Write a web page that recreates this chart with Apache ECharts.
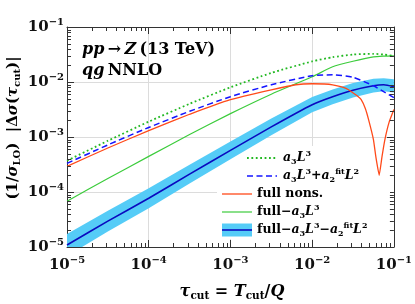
<!DOCTYPE html>
<html><head><meta charset="utf-8">
<script src="https://cdn.jsdelivr.net/npm/echarts@6/dist/echarts.min.js"></script>
<style>html,body{margin:0;padding:0;background:#fff}#c{width:415px;height:304px}</style>
</head><body><div id="c"></div>
<script>
// ---- data ----
const tau = [1e-5, 3.16e-5, 1e-4, 3.16e-4, 1e-3, 3.16e-3, 1e-2, 1.78e-2, 3.16e-2, 5.62e-2, 7.5e-2, 1e-1];
const a3L3 = [3.71e-4, 8.53e-4, 1.90e-3, 4.01e-3, 8.0e-3, 1.46e-2, 2.37e-2, 2.82e-2, 3.16e-2, 3.25e-2, 3.16e-2, 2.96e-2];
const a3L3a2L2 = [3.31e-4, 7.17e-4, 1.49e-3, 2.93e-3, 5.41e-3, 8.91e-3, 1.30e-2, 1.35e-2, 1.22e-2, 8.55e-3, 6.67e-3, 5.19e-3];
const fullMinusA3 = [6.81e-5, 1.76e-4, 4.44e-4, 1.11e-3, 2.66e-3, 6.0e-3, 1.245e-2, 1.89e-2, 2.38e-2, 2.86e-2, 2.95e-2, 2.99e-2];
const fullMinusBoth = [1.09e-5, 2.95e-5, 7.71e-5, 2.11e-4, 5.70e-4, 1.53e-3, 3.87e-3, 5.41e-3, 7.10e-3, 8.55e-3, 8.91e-3, 8.20e-3];
const bandLow = [6.85e-6, 1.91e-5, 5.09e-5, 1.43e-4, 3.94e-4, 1.08e-3, 2.81e-3, 3.94e-3, 5.25e-3, 6.41e-3, 6.76e-3, 6.46e-3];
const bandHigh = [1.72e-5, 4.57e-5, 1.17e-4, 3.13e-4, 8.24e-4, 2.16e-3, 5.35e-3, 7.33e-3, 9.55e-3, 1.14e-2, 1.17e-2, 1.12e-2];
const tauRed = [1e-5, 3.16e-5, 1e-4, 3.16e-4, 1e-3, 3.16e-3, 6.31e-3, 1e-2, 1.41e-2, 1.78e-2, 2.24e-2, 2.63e-2, 3.02e-2, 3.55e-2, 3.98e-2, 4.47e-2, 4.9e-2, 5.62e-2, 6.03e-2, 6.61e-2, 7.16e-2, 7.76e-2, 8.71e-2, 1e-1];
const fullNons = [2.93e-4, 6.31e-4, 1.31e-3, 2.59e-3, 4.78e-3, 7.2e-3, 8.91e-3, 9.29e-3, 9.2e-3, 8.9e-3, 8.2e-3, 7.55e-3, 6.67e-3, 5.6e-3, 4.77e-3, 3.3e-3, 2.07e-3, 9.0e-4, 4.26e-4, 2.01e-4, 4.44e-4, 9.0e-4, 1.83e-3, 3.15e-3];
const tickExponents = ['−5', '−4', '−3', '−2', '−1'];
const minorMantissas = [2, 3, 4, 5, 6, 7, 8, 9];
const decades = [1e-5, 1e-4, 1e-3, 1e-2];

const XMIN = 1e-5, XMAX = 1e-1, YMIN = 1e-5, YMAX = 1e-1;
const minorTicks = [];
decades.forEach(d => minorMantissas.forEach(m => minorTicks.push(+(m * d).toPrecision(3))));

const SERIF = 'DejaVu Serif';
const C_DOT = '#22b822', C_DASH = '#1414ff', C_RED = '#ff4a1a', C_GREEN = '#3ccc3c', C_BAND = '#55ccf7', C_CENTER = '#0a0abf';
const pair = (xs, ys) => xs.map((x, i) => [x, ys[i]]);

function richSized(s, subs) {
  const base = {fontFamily: SERIF, fontWeight: 'bold', color: '#111'};
  return {
    r: Object.assign({}, base, {fontSize: s, lineHeight: s + 4}),
    i: Object.assign({}, base, {fontStyle: 'italic', fontSize: s, lineHeight: s + 4}),
    g: Object.assign({}, base, {fontStyle: 'italic', fontSize: s, lineHeight: s + 4}),
    sub: Object.assign({}, base, {fontSize: subs, lineHeight: subs, verticalAlign: 'bottom'}),
    sup: Object.assign({}, base, {fontSize: subs, lineHeight: subs, verticalAlign: 'top'})
  };
}
const axisLabelRich = {
  b: {fontFamily: SERIF, fontWeight: 'bold', fontSize: 15, color: '#111', lineHeight: 20},
  s: {fontFamily: SERIF, fontWeight: 'bold', fontSize: 10, color: '#111', lineHeight: 10, verticalAlign: 'top'}
};
const labelFmt = v => {
  const e = Math.round(Math.log10(v));
  return '{b|10}{s|' + tickExponents[e + 5] + '}';
};
const axisCommon = {
  type: 'log', logBase: 10, splitNumber: 4,
  axisLine: {show: true, onZero: false, lineStyle: {color: '#333', width: 1}},
  axisTick: {show: true, inside: true, length: 7, lineStyle: {color: '#333'}},
  minorTick: {show: false}
};

const chart = echarts.init(document.getElementById('c'), null, {renderer: 'canvas'});
const legendRows = [
  {y: 158, x1: 247, x2: 277, tx: 283, kind: 'dot', text: '{i|a}{sub|3}{i|L}{sup|3}'},
  {y: 176, x1: 247, x2: 277, tx: 283, kind: 'dash', text: '{i|a}{sub|3}{i|L}{sup|3}{r|+}{i|a}{sub|2}{sup|fit}{i|L}{sup|2}'},
  {y: 194, x1: 222, x2: 252, tx: 257, kind: 'red', text: '{r|full nons.}'},
  {y: 212, x1: 222, x2: 252, tx: 257, kind: 'green', text: '{r|full−}{i|a}{sub|3}{i|L}{sup|3}'},
  {y: 230, x1: 222, x2: 252, tx: 257, kind: 'band', text: '{r|full−}{i|a}{sub|3}{i|L}{sup|3}{r|−}{i|a}{sub|2}{sup|fit}{i|L}{sup|2}'}
];
const lineStyles = {
  dot: {stroke: C_DOT, lineWidth: 1.8, lineDash: [1.8, 2.6]},
  dash: {stroke: C_DASH, lineWidth: 1.5, lineDash: [6, 3.5]},
  red: {stroke: C_RED, lineWidth: 1.3},
  green: {stroke: C_GREEN, lineWidth: 1.2},
  band: {stroke: C_CENTER, lineWidth: 1.6}
};
const legendGraphics = [];
legendRows.forEach(r => {
  if (r.kind === 'band') {
    legendGraphics.push({type: 'rect', z: 10, silent: true, shape: {x: r.x1, y: r.y - 6.5, width: r.x2 - r.x1, height: 13}, style: {fill: C_BAND}});
  }
  legendGraphics.push({type: 'line', z: 11, silent: true, shape: {x1: r.x1, y1: r.y, x2: r.x2, y2: r.y}, style: lineStyles[r.kind]});
  legendGraphics.push({type: 'text', z: 11, silent: true, x: r.tx, y: r.y, style: {text: r.text, rich: richSized(12.5, 8), verticalAlign: 'middle', align: 'left'}});
});

const option = {
  animation: false,
  backgroundColor: '#fff',
  grid: {left: 67, right: 17, top: 27, bottom: 57, containLabel: false},
  xAxis: [
    Object.assign({}, axisCommon, {min: XMIN, max: XMAX, position: 'bottom',
      axisLabel: {formatter: labelFmt, rich: axisLabelRich, margin: 8},
      splitLine: {show: true, lineStyle: {color: '#dcdcdc', width: 1}}}),
    Object.assign({}, axisCommon, {min: XMIN, max: XMAX, position: 'top', axisLabel: {show: false}, splitLine: {show: false}})
  ],
  yAxis: [
    Object.assign({}, axisCommon, {min: YMIN, max: YMAX, position: 'left',
      axisLabel: {formatter: labelFmt, rich: axisLabelRich, margin: 3},
      splitLine: {show: true, lineStyle: {color: '#dcdcdc', width: 1}}}),
    Object.assign({}, axisCommon, {min: YMIN, max: YMAX, position: 'right', axisLabel: {show: false}, splitLine: {show: false}})
  ],
  graphic: [
    {type: 'rect', z: 1, silent: true, shape: {x: 217, y: 146, width: 173, height: 93}, style: {fill: '#fff'}},
    {type: 'text', z: 11, silent: true, x: 82, y: 50, style: {text: '{i|pp} {r|→} {i|Z} {r|(13 TeV)}', rich: richSized(16, 11), verticalAlign: 'middle'}},
    {type: 'text', z: 11, silent: true, x: 82, y: 71, style: {text: '{i|qg} {r|NNLO}', rich: richSized(16, 11), verticalAlign: 'middle'}},
    {type: 'text', z: 11, silent: true, x: 13, y: 128, rotation: Math.PI / 2,
      style: {text: '{r|(1/}{g|σ}{sub|LO}{r|)  |Δ}{g|σ}{r|(}{g|τ}{sub|cut}{r|)|}', rich: richSized(15, 10), align: 'center', verticalAlign: 'middle'}},
    {type: 'text', z: 11, silent: true, x: 232, y: 292,
      style: {text: '{g|τ}{sub|cut}{r| = }{i|T}{sub|cut}{r|/}{i|Q}', rich: richSized(16, 10.5), align: 'center', verticalAlign: 'middle'}}
  ].concat(legendGraphics),
  series: [
    {
      type: 'custom', name: 'band', silent: true, clip: true, z: 2,
      data: [[tau[0], bandLow[0]]],
      renderItem: (params, api) => {
        if (params.dataIndex !== 0) return null;
        const pts = [];
        for (let i = 0; i < tau.length; i++) pts.push(api.coord([tau[i], bandHigh[i]]));
        for (let i = tau.length - 1; i >= 0; i--) pts.push(api.coord([tau[i], bandLow[i]]));
        return {type: 'polygon', shape: {points: pts}, style: {fill: C_BAND}};
      }
    },
    {type: 'line', name: 'center', data: pair(tau, fullMinusBoth), symbol: 'none', smooth: 0.2, z: 3,
      lineStyle: {color: C_CENTER, width: 1.6}},
    {type: 'line', name: 'fullMinusA3', data: pair(tau, fullMinusA3), symbol: 'none', smooth: 0.2, z: 3,
      lineStyle: {color: C_GREEN, width: 1.2}},
    {type: 'line', name: 'fullNons', data: pair(tauRed, fullNons), symbol: 'none', smooth: 0.12, z: 4,
      lineStyle: {color: C_RED, width: 1.3}},
    {type: 'line', name: 'a3L3a2L2', data: pair(tau, a3L3a2L2), symbol: 'none', smooth: 0.2, z: 5,
      lineStyle: {color: C_DASH, width: 1.5, type: [6, 3.5]}},
    {type: 'line', name: 'a3L3', data: pair(tau, a3L3), symbol: 'none', smooth: 0.2, z: 6,
      lineStyle: {color: C_DOT, width: 1.8, type: [1.8, 2.6]}},
    {
      type: 'custom', name: 'minorTicks', silent: true, clip: false, z: 7,
      data: minorTicks.map(v => [v, v]),
      renderItem: (params, api) => {
        const v = api.value(0);
        const b = api.coord([v, YMIN]), t = api.coord([v, YMAX]);
        const l = api.coord([XMIN, v]), r = api.coord([XMAX, v]);
        const L = 4, st = {stroke: '#333', lineWidth: 1};
        const xb = Math.round(b[0]) + 0.5, yl = Math.round(l[1]) + 0.5;
        return {type: 'group', children: [
          {type: 'line', shape: {x1: xb, y1: b[1], x2: xb, y2: b[1] - L}, style: st},
          {type: 'line', shape: {x1: xb, y1: t[1], x2: xb, y2: t[1] + L}, style: st},
          {type: 'line', shape: {x1: l[0], y1: yl, x2: l[0] + L, y2: yl}, style: st},
          {type: 'line', shape: {x1: r[0], y1: yl, x2: r[0] - L, y2: yl}, style: st}
        ]};
      }
    }
  ]
};
chart.setOption(option);
</script>
</body></html>
